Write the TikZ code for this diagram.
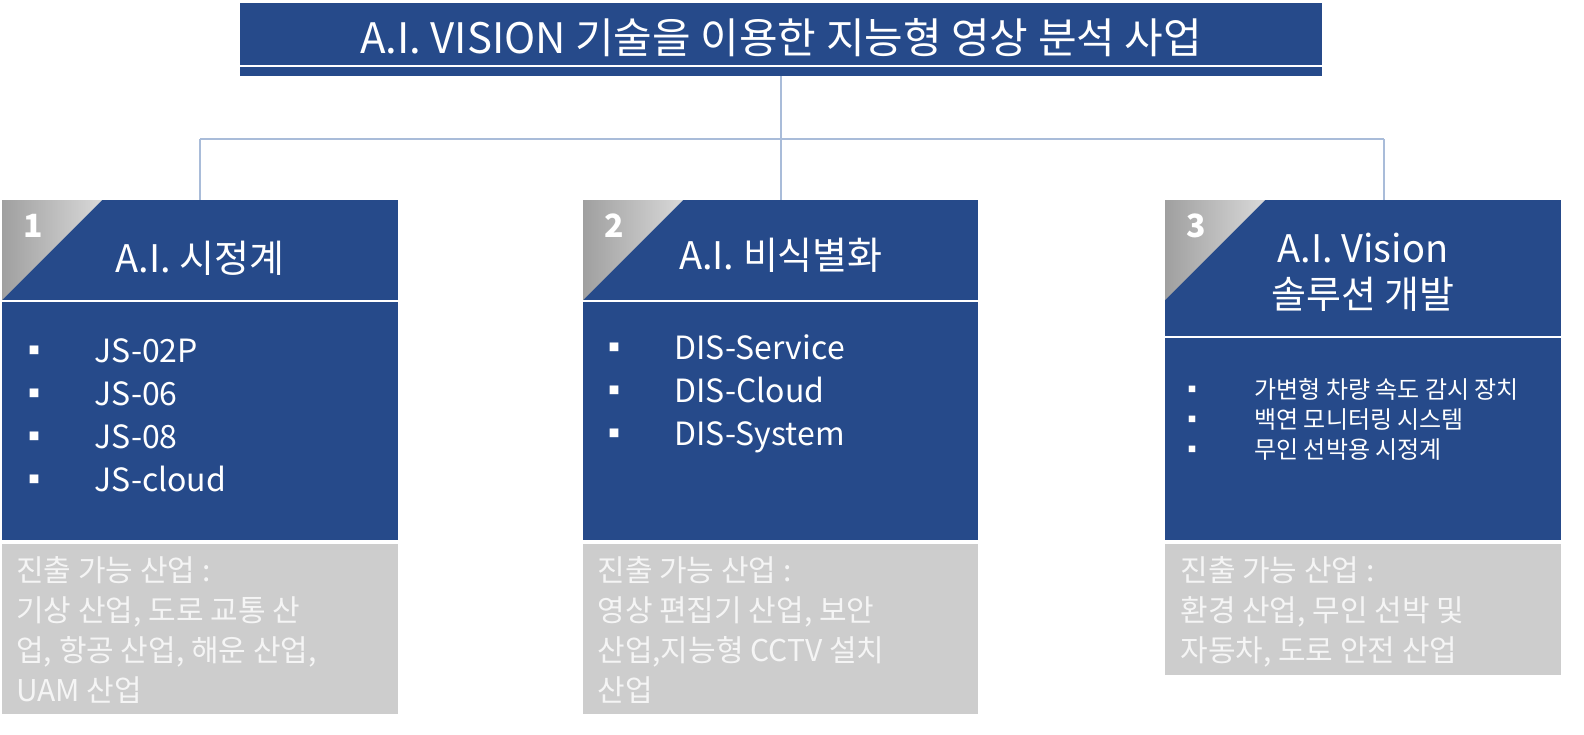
\documentclass[tikz,border=0pt]{standalone}
\usepackage{fontspec}
\setmainfont{Noto Sans CJK KR}
\usetikzlibrary{calc}
\definecolor{navy}{HTML}{264A8A}
\definecolor{wire}{HTML}{A9BCD9}
\definecolor{pale}{HTML}{CDCDCD}
\tikzset{
  head/.style={fill=navy, draw=none},
  body/.style={fill=navy, draw=none},
  note/.style={fill=pale, draw=none},
  wtext/.style={text=white, inner sep=0pt},
  list/.style={wtext, align=left, anchor=north west, font=\fontsize{16}{21.5}\selectfont},
  small list/.style={wtext, align=left, anchor=north west, font=\fontsize{12}{15}\selectfont},
  notetext/.style={text=white!96!black, inner sep=0pt, align=left, anchor=north west, font=\fontsize{15}{20}\selectfont},
  link/.style={draw=wire, line width=1.2pt}
}
\newcommand{\corner}[3]{%
  \shade[left color=gray!75, right color=gray!30] (#1,#2) -- ++(100,0) -- ++(-100,100) -- cycle;
  \node[wtext, font=\bfseries\fontsize{16}{16}\selectfont] at (#1+31,#2+26) {#3};}
\begin{document}
\begin{tikzpicture}[x=0.5pt, y=-0.5pt]
  \useasboundingbox (0,0) rectangle (1584,734);
  % title
  \fill[head] (240,3) rectangle (1322,76);
  \draw[white, line width=0.6pt] (240,66) -- (1322,66);
  \node[wtext, font=\fontsize{21}{21}\selectfont] (title) at (781,38) {A.I. VISION 기술을 이용한 지능형 영상 분석 사업};
  % connectors
  \coordinate (t) at (781,76);
  \coordinate (j) at (781,139);
  \coordinate (l) at (200,139);
  \coordinate (r) at (1384,139);
  \coordinate (b1) at (200,200);
  \coordinate (b2) at (781,200);
  \coordinate (b3) at (1384,200);
  \draw[link] (t) -- (j);
  \draw[link] (l) -- (r);
  \draw[link] (l) -- (b1);
  \draw[link] (j) -- (b2);
  \draw[link] (r) -- (b3);
  % box 1
  \fill[head] (2,200) rectangle (398,300);
  \fill[body] (2,302) rectangle (398,540);
  \fill[note] (2,544) rectangle (398,714);
  \corner{2}{200}{1}
  \node[wtext, font=\fontsize{19}{19}\selectfont] (h1) at (200,258) {A.I. 시정계};
  \node[list] (l1) at (18,338) {▪\hspace{22pt}JS-02P\\▪\hspace{22pt}JS-06\\▪\hspace{22pt}JS-08\\▪\hspace{22pt}JS-cloud};
  \node[notetext] (n1) at (16,556) {진출 가능 산업 :\\기상 산업, 도로 교통 산\\업, 항공 산업, 해운 산업,\\UAM 산업};
  % box 2
  \fill[head] (583,200) rectangle (978,300);
  \fill[body] (583,302) rectangle (978,540);
  \fill[note] (583,544) rectangle (978,714);
  \corner{583}{200}{2}
  \node[wtext, font=\fontsize{19}{19}\selectfont] (h2) at (781,255) {A.I. 비식별화};
  \node[list] (l2) at (598,334) {▪\hspace{22pt}DIS-Service\\▪\hspace{22pt}DIS-Cloud\\▪\hspace{22pt}DIS-System};
  \node[notetext] (n2) at (597,556) {진출 가능 산업 :\\영상 편집기 산업, 보안\\산업,지능형 CCTV 설치\\산업};
  % box 3
  \fill[head] (1165,200) rectangle (1561,336);
  \fill[body] (1165,338) rectangle (1561,540);
  \fill[note] (1165,544) rectangle (1561,675);
  \corner{1165}{200}{3}
  \node[wtext, align=center, font=\fontsize{19}{23}\selectfont] (h3) at (1363,272) {A.I. Vision\\솔루션 개발};
  \node[small list] (l3) at (1180,378) {▪\hspace{25pt}가변형 차량 속도 감시 장치\\▪\hspace{25pt}백연 모니터링 시스템\\▪\hspace{25pt}무인 선박용 시정계};
  \node[notetext] (n3) at (1180,556) {진출 가능 산업 :\\환경 산업, 무인 선박 및\\자동차, 도로 안전 산업};
\end{tikzpicture}
\end{document}
